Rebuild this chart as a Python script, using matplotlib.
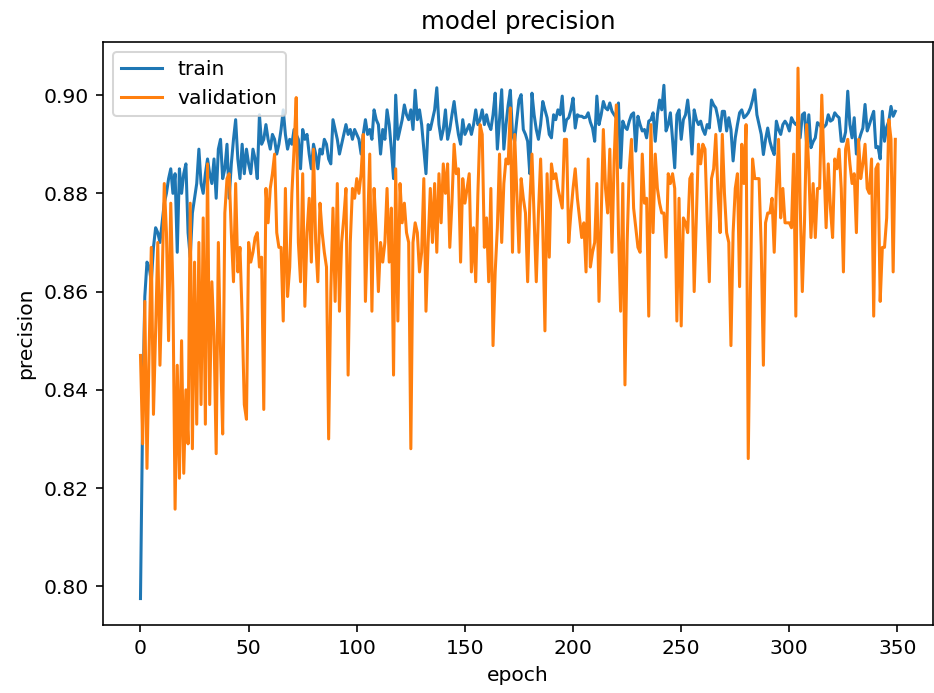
import matplotlib
matplotlib.use('Agg')
import matplotlib.pyplot as plt
import numpy as np

# precision per epoch
train = [
    # 0-33
    0.7975, 0.835, 0.859, 0.866, 0.865, 0.862, 0.869, 0.873, 0.872, 0.870,
    0.874, 0.878, 0.880, 0.883, 0.885, 0.880, 0.884, 0.868, 0.885, 0.880,
    0.884, 0.886, 0.872, 0.867, 0.876, 0.879, 0.882, 0.889, 0.882, 0.880,
    0.884, 0.887, 0.884, 0.882,
    # 34-75
    0.887, 0.879, 0.889, 0.891, 0.883, 0.885, 0.890, 0.879, 0.886, 0.891,
    0.895, 0.887, 0.883, 0.890, 0.884, 0.889, 0.886, 0.884, 0.889, 0.887,
    0.883, 0.896, 0.890, 0.891, 0.894, 0.891, 0.889, 0.892, 0.891, 0.888,
    0.890, 0.893, 0.897, 0.892, 0.889, 0.891, 0.890, 0.893, 0.892, 0.891,
    0.885, 0.893,
    # 76-114
    0.891, 0.892, 0.888, 0.885, 0.890, 0.888, 0.885, 0.889, 0.888, 0.891,
    0.890, 0.887, 0.886, 0.895, 0.893, 0.891, 0.888, 0.890, 0.892, 0.894,
    0.892, 0.893, 0.891, 0.893, 0.892, 0.891, 0.888, 0.892, 0.895, 0.892,
    0.893, 0.891, 0.897, 0.895, 0.894, 0.888, 0.893, 0.891, 0.897,
    # 115-153
    0.894, 0.889, 0.883, 0.900, 0.891, 0.893, 0.895, 0.898, 0.896, 0.895,
    0.897, 0.893, 0.901, 0.895, 0.897, 0.894, 0.889, 0.884, 0.894, 0.893,
    0.895, 0.897, 0.9015, 0.894, 0.891, 0.893, 0.897, 0.891, 0.893, 0.896,
    0.8987, 0.895, 0.892, 0.890, 0.895, 0.892, 0.893, 0.894, 0.892,
    # 154-192
    0.894, 0.897, 0.894, 0.895, 0.897, 0.894, 0.896, 0.894, 0.893, 0.896,
    0.9004, 0.889, 0.895, 0.9011, 0.889, 0.894, 0.898, 0.901, 0.892, 0.8906,
    0.895, 0.899, 0.9001, 0.893, 0.892, 0.8906, 0.884, 0.9004, 0.896, 0.893,
    0.891, 0.894, 0.8987, 0.897, 0.8954, 0.892, 0.8913, 0.896, 0.895,
    # 193-231
    0.897, 0.896, 0.8998, 0.8927, 0.895, 0.8954, 0.897, 0.8994, 0.8933, 0.896,
    0.8957, 0.8957, 0.8954, 0.8955, 0.8964, 0.8945, 0.8933, 0.8906, 0.8998, 0.894,
    0.896, 0.8987, 0.8974, 0.897, 0.8984, 0.8967, 0.896, 0.8954, 0.8984, 0.8852,
    0.8947, 0.8935, 0.893, 0.8947, 0.896, 0.8964, 0.8886, 0.8957, 0.894,
    # 232-270
    0.8927, 0.893, 0.8913, 0.8947, 0.895, 0.8964, 0.8906, 0.896, 0.899, 0.897,
    0.902, 0.8927, 0.894, 0.8964, 0.891, 0.8852, 0.896, 0.897, 0.891, 0.895,
    0.896, 0.899, 0.8947, 0.888, 0.897, 0.895, 0.894, 0.8947, 0.893, 0.892,
    0.894, 0.8933, 0.899, 0.898, 0.8974, 0.8954, 0.8927, 0.8967, 0.8967,
    # 271-310
    0.8927, 0.8954, 0.893, 0.8866, 0.8913, 0.894, 0.8964, 0.897, 0.8954, 0.8958,
    0.8964, 0.8974, 0.899, 0.9011, 0.896, 0.894, 0.892, 0.8879, 0.891, 0.8933,
    0.8906, 0.889, 0.8879, 0.8947, 0.893, 0.892, 0.894, 0.8947, 0.894, 0.8927,
    0.8954, 0.8945, 0.894, 0.8947, 0.8913, 0.896, 0.8964, 0.8900, 0.8960, 0.8893,
    # 311-349
    0.8905, 0.8913, 0.8944, 0.894, 0.8933, 0.8935, 0.894, 0.896, 0.8947, 0.895,
    0.8964, 0.8958, 0.8954, 0.8906, 0.8906, 0.8925, 0.9008, 0.894, 0.8913, 0.8954,
    0.888, 0.8905, 0.892, 0.8933, 0.8981, 0.8927, 0.894, 0.8954, 0.8967, 0.8893,
    0.8895, 0.887, 0.8967, 0.8906, 0.8935, 0.8947, 0.8977, 0.8957, 0.8967,
]

validation = [
    # 0-33
    0.847, 0.829, 0.858, 0.824, 0.848, 0.869, 0.835, 0.852, 0.870, 0.845,
    0.862, 0.882, 0.872, 0.850, 0.878, 0.860, 0.8157, 0.845, 0.822, 0.850,
    0.823, 0.840, 0.829, 0.878, 0.828, 0.866, 0.833, 0.870, 0.837, 0.875,
    0.833, 0.886, 0.837, 0.862,
    # 34-75
    0.851, 0.827, 0.870, 0.848, 0.831, 0.876, 0.883, 0.884, 0.872, 0.862,
    0.882, 0.864, 0.869, 0.855, 0.837, 0.834, 0.870, 0.866, 0.868, 0.871,
    0.872, 0.865, 0.867, 0.836, 0.881, 0.874, 0.881, 0.884, 0.888, 0.872,
    0.869, 0.869, 0.854, 0.881, 0.859, 0.865, 0.880, 0.889, 0.8995, 0.870,
    0.862, 0.884,
    # 76-114
    0.857, 0.872, 0.879, 0.866, 0.889, 0.870, 0.862, 0.878, 0.872, 0.868,
    0.865, 0.830, 0.860, 0.877, 0.858, 0.882, 0.856, 0.870, 0.875, 0.881,
    0.843, 0.870, 0.881, 0.879, 0.883, 0.880, 0.884, 0.892, 0.858, 0.873,
    0.888, 0.856, 0.881, 0.872, 0.860, 0.870, 0.866, 0.870, 0.881,
    # 115-153
    0.866, 0.877, 0.843, 0.885, 0.854, 0.882, 0.874, 0.878, 0.872, 0.870,
    0.828, 0.870, 0.874, 0.872, 0.864, 0.868, 0.883, 0.856, 0.870, 0.881,
    0.870, 0.882, 0.868, 0.884, 0.874, 0.886, 0.880, 0.886, 0.869, 0.878,
    0.890, 0.884, 0.885, 0.866, 0.883, 0.878, 0.881, 0.884, 0.864,
    # 154-192
    0.873, 0.862, 0.880, 0.894, 0.892, 0.869, 0.875, 0.862, 0.881, 0.849,
    0.864, 0.873, 0.888, 0.870, 0.882, 0.887, 0.886, 0.8974, 0.868, 0.892,
    0.880, 0.868, 0.883, 0.879, 0.876, 0.862, 0.878, 0.888, 0.875, 0.862,
    0.876, 0.887, 0.873, 0.852, 0.884, 0.867, 0.886, 0.883, 0.884,
    # 193-231
    0.881, 0.879, 0.877, 0.891, 0.891, 0.870, 0.876, 0.881, 0.885, 0.879,
    0.875, 0.871, 0.874, 0.864, 0.887, 0.865, 0.868, 0.870, 0.882, 0.858,
    0.875, 0.893, 0.881, 0.876, 0.889, 0.868, 0.887, 0.898, 0.872, 0.856,
    0.882, 0.841, 0.870, 0.885, 0.891, 0.877, 0.873, 0.869, 0.868,
    # 232-270
    0.888, 0.878, 0.879, 0.855, 0.894, 0.872, 0.888, 0.881, 0.878, 0.876,
    0.876, 0.867, 0.884, 0.882, 0.884, 0.881, 0.854, 0.879, 0.853, 0.875,
    0.874, 0.872, 0.883, 0.884, 0.860, 0.875, 0.890, 0.886, 0.890, 0.889,
    0.875, 0.862, 0.883, 0.885, 0.892, 0.880, 0.872, 0.892, 0.880,
    # 271-310
    0.872, 0.870, 0.849, 0.872, 0.881, 0.884, 0.861, 0.890, 0.882, 0.894,
    0.826, 0.860, 0.887, 0.883, 0.883, 0.883, 0.869, 0.845, 0.874, 0.876,
    0.876, 0.879, 0.868, 0.881, 0.891, 0.875, 0.881, 0.874, 0.874, 0.874,
    0.873, 0.888, 0.855, 0.9055, 0.878, 0.860, 0.874, 0.894, 0.885, 0.871,
    # 311-349
    0.882, 0.871, 0.881, 0.881, 0.900, 0.886, 0.873, 0.886, 0.877, 0.871,
    0.887, 0.885, 0.889, 0.881, 0.864, 0.889, 0.891, 0.886, 0.882, 0.884,
    0.872, 0.891, 0.883, 0.886, 0.890, 0.881, 0.880, 0.887, 0.855, 0.885,
    0.886, 0.858, 0.869, 0.869, 0.875, 0.895, 0.891, 0.864, 0.891,
]

print(len(train), len(validation))

fig = plt.figure(figsize=(934 / 146, 693 / 146), dpi=146)
ax = fig.add_axes([0.110, 0.098, 0.889, 0.842])

ax.plot(np.arange(len(train)), train, label='train')
ax.plot(np.arange(len(validation)), validation, label='validation')

ax.set_title('model precision')
ax.set_xlabel('epoch')
ax.set_ylabel('precision')
ax.legend(loc='upper left')

fig.savefig('out.png', dpi=146)
